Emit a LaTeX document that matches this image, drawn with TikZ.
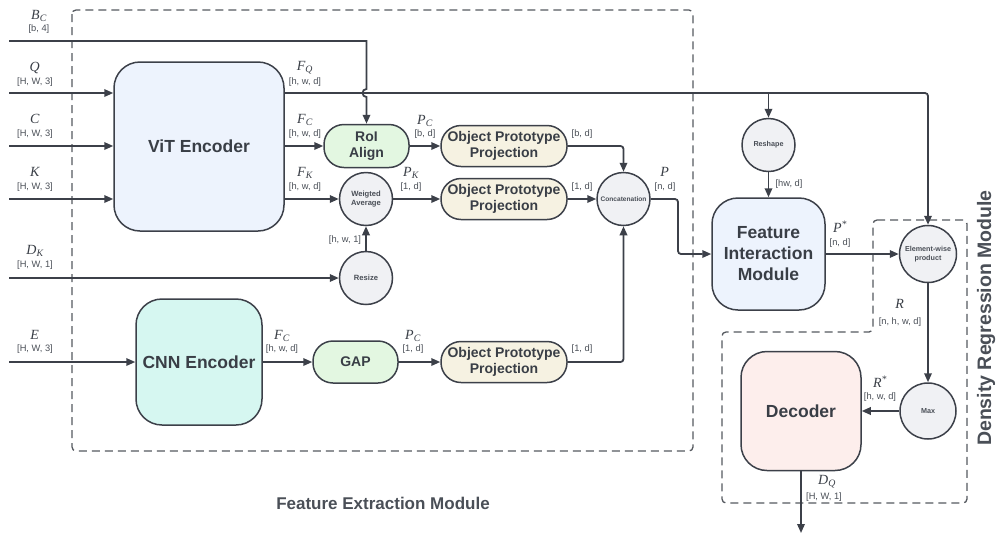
\documentclass[tikz,border=0pt]{standalone}
\usepackage{fontspec}
\setmainfont{Liberation Sans}
\newfontfamily\symfont{Liberation Serif}
\usetikzlibrary{arrows.meta,calc}

\definecolor{ln}{HTML}{3C4049}
\definecolor{txt}{HTML}{393E46}
\definecolor{dimc}{HTML}{4A4F57}
\definecolor{dsh}{HTML}{55595F}
\definecolor{fblue}{HTML}{EDF3FD}
\definecolor{fcyan}{HTML}{D6F7F1}
\definecolor{fgreen}{HTML}{E3F7E1}
\definecolor{fcream}{HTML}{F6F2E2}
\definecolor{fgray}{HTML}{F0F1F4}
\definecolor{fpink}{HTML}{FDEEEC}

% italic variable with subscript / superscript
\newcommand{\sv}[2]{{\symfont\itshape #1\textsubscript{#2}}}
\newcommand{\svs}[2]{{\symfont\itshape #1\textsuperscript{#2}}}

\tikzset{
  conn/.style={draw=ln, line width=1.8pt},
  arr/.style={conn, -{Triangle[length=9pt,width=7.5pt]}},
  bigbox/.style={draw=ln, line width=1.5pt, rounded corners=26pt, text=txt,
    font=\fontsize{17.5}{21}\bfseries, align=center, inner sep=0pt},
  pill/.style={draw=ln, line width=1.5pt, rounded corners=20pt, text=txt,
    font=\fontsize{14}{16.5}\bfseries, align=center, inner sep=0pt},
  opbox/.style={pill, fill=fcream, minimum width=126pt, minimum height=41pt},
  op/.style={circle, draw=ln, line width=1.5pt, fill=fgray, text=dimc,
    minimum size=53pt, inner sep=0pt, align=center, font=\fontsize{7.6}{9.5}\bfseries},
  dim/.style={text=dimc, font=\fontsize{9.3}{11}\selectfont, inner sep=0pt},
  var/.style={text=txt, font=\fontsize{14}{16}\selectfont, inner sep=0pt},
  frame/.style={draw=dsh, line width=1.3pt, dash pattern=on 8pt off 5pt, rounded corners=4pt},
  modlabel/.style={text=dimc, font=\fontsize{17}{20}\bfseries, inner sep=0pt}
}

\begin{document}
\begin{tikzpicture}[x=1pt, y=-1pt]
\useasboundingbox (0,0) rectangle (1002,539);

% module frames
\draw[frame] (72,10) rectangle (693,451);
\draw[frame] (873,220) -- (967,220) -- (967,503) -- (722,503) -- (722,332) -- (873,332) -- cycle;
\node[modlabel] (femlab) at (383,503) {Feature Extraction Module};
\node[modlabel, font=\fontsize{19.5}{22}\bfseries, rotate=90] (drmlab) at (986,318) {Density Regression Module};

% blocks
\node[bigbox, fill=fblue, minimum width=170pt, minimum height=169pt] (vit) at (199,146.5) {ViT Encoder};
\node[bigbox, fill=fcyan, minimum width=126pt, minimum height=126pt] (cnn) at (199,362) {CNN Encoder};
\node[bigbox, fill=fblue, minimum width=113pt, minimum height=112pt] (fim) at (768.5,254) {Feature\\Interaction\\Module};
\node[bigbox, fill=fpink, minimum width=120pt, minimum height=119pt] (dec) at (801,411) {Decoder};

\node[pill, fill=fgreen, minimum width=85pt, minimum height=43pt] (roi) at (366.5,146) {RoI\\Align};
\node[pill, fill=fgreen, minimum width=85pt, minimum height=42pt] (gap) at (355.5,362) {GAP};
\node[opbox] (opp1) at (504,146) {Object Prototype\\Projection};
\node[opbox] (opp2) at (504,199) {Object Prototype\\Projection};
\node[opbox] (opp3) at (504,362) {Object Prototype\\Projection};

\node[op] (wa) at (366,199) {Weigted\\Average};
\node[op] (resize) at (366,278) {Resize};
\node[op, font=\fontsize{6.6}{8}\bfseries] (cat) at (623.5,199) {Concatenation};
\node[op, font=\fontsize{7.2}{8.5}\bfseries] (reshape) at (768.5,145) {Reshape};
\node[op, minimum size=57pt, font=\fontsize{7.2}{9}\bfseries] (ewp) at (928,254) {Element-wise\\product};
\node[op, minimum size=56pt, font=\fontsize{7.2}{9}\bfseries] (max) at (928,411) {Max};

% input ends
\coordinate (inB) at (9,41);
\coordinate (inQ) at (9,93);
\coordinate (inC) at (9,146);
\coordinate (inK) at (9,199);
\coordinate (inD) at (9,278);
\coordinate (inE) at (9,362);
\coordinate (bturn) at (roi.north |- inB);
\coordinate (hop) at (roi.north |- inQ);
\coordinate (cbend) at (678,199);
\coordinate (dqend) at (dec.south |- 0,533);

% inputs
\draw[arr] (inQ) -- (inQ -| vit.west);
\draw[arr] (inC) -- (inC -| vit.west);
\draw[arr] (inK) -- (inK -| vit.west);
\draw[arr] (inD) -- (resize.west);
\draw[arr] (inE) -- (cnn.west);
\draw[arr] (inB) -- (bturn) -- ($(hop)+(0,-4)$) arc[start angle=90, end angle=270, radius=4pt] -- (roi.north);

% feature paths
\draw[arr, rounded corners=3pt] (vit.east |- inQ) -| (ewp.north);
\draw[arr] (reshape.north |- inQ) -- (reshape.north);
\draw[arr] (vit.east |- roi) -- (roi.west);
\draw[arr] (vit.east |- wa) -- (wa.west);
\draw[arr] (roi.east) -- (opp1.west);
\draw[arr] (wa.east) -- (opp2.west);
\draw[arr] (resize.north) -- (wa.south);
\draw[arr, rounded corners=3pt] (opp1.east) -| (cat.north);
\draw[arr] (opp2.east) -- (cat.west);
\draw[arr] (cnn.east) -- (gap.west);
\draw[arr] (gap.east) -- (opp3.west);
\draw[arr, rounded corners=3pt] (opp3.east) -| (cat.south);
\draw[arr, rounded corners=3pt] (cat.east) -- (cbend) |- (fim.west);
\draw[arr] (reshape.south) -- (fim.north);
\draw[arr] (fim.east) -- (ewp.west);
\draw[arr] (ewp.south) -- (max.north);
\draw[arr] (max.west) -- (dec.east);
\draw[arr] (dec.south) -- (dqend);

% variable names and shapes
\node[var] (lbc) at (39,16) {\sv{B}{C}};
\node[dim] (dbc) at (39,29) {[b, 4]};
\node[var] (lq) at (35,68) {\sv{Q}{}};
\node[dim] (dq) at (35,82) {[H, W, 3]};
\node[var] (lc) at (35,120) {\sv{C}{}};
\node[dim] (dc) at (35,134) {[H, W, 3]};
\node[var] (lk) at (35,173) {\sv{K}{}};
\node[dim] (dk) at (35,187) {[H, W, 3]};
\node[var] (ldk) at (35,251) {\sv{D}{K}};
\node[dim] (ddk) at (35,265) {[H, W, 1]};
\node[var] (le) at (35,336) {\sv{E}{}};
\node[dim] (de) at (35,349) {[H, W, 3]};

\node[var] (lfq) at (305,68) {\sv{F}{Q}};
\node[dim] (dfq) at (305,82) {[h, w, d]};
\node[var] (lfc) at (305,120) {\sv{F}{C}};
\node[dim] (dfc) at (305,134) {[h, w, d]};
\node[var] (lfk) at (305,173) {\sv{F}{K}};
\node[dim] (dfk) at (305,187) {[h, w, d]};

\node[var] (lpc) at (425,121) {\sv{P}{C}};
\node[dim] (dpc) at (425,134) {[b, d]};
\node[dim] (dop1) at (582,134) {[b, d]};
\node[var] (lpk) at (411,173) {\sv{P}{K}};
\node[dim] (dpk) at (411,187) {[1, d]};
\node[dim] (dop2) at (582,187) {[1, d]};
\node[var] (lp) at (665,173) {\sv{P}{}};
\node[dim] (dp) at (665,187) {[n, d]};
\node[dim] (dwa) at (345,240) {[h, w, 1]};

\node[var] (lfc2) at (282,336) {\sv{F}{C}};
\node[dim] (dfc2) at (282,349) {[h, w, d]};
\node[var] (lpc2) at (413,336) {\sv{P}{C}};
\node[dim] (dpc2) at (413,349) {[1, d]};
\node[dim] (dop3) at (582,349) {[1, d]};

\node[dim] (dhw) at (789,184) {[hw, d]};
\node[var] (lps) at (840,227) {\svs{P}{*}};
\node[dim] (dps) at (840,243) {[n, d]};
\node[var] (lr) at (900,305) {\sv{R}{}};
\node[dim] (dr) at (900,322) {[n, h, w, d]};
\node[var] (lrs) at (880,382) {\svs{R}{*}};
\node[dim] (drs) at (880,397) {[h, w, d]};
\node[var] (ldq) at (827,482) {\sv{D}{Q}};
\node[dim] (ddq) at (824,497) {[H, W, 1]};
\end{tikzpicture}
\end{document}
